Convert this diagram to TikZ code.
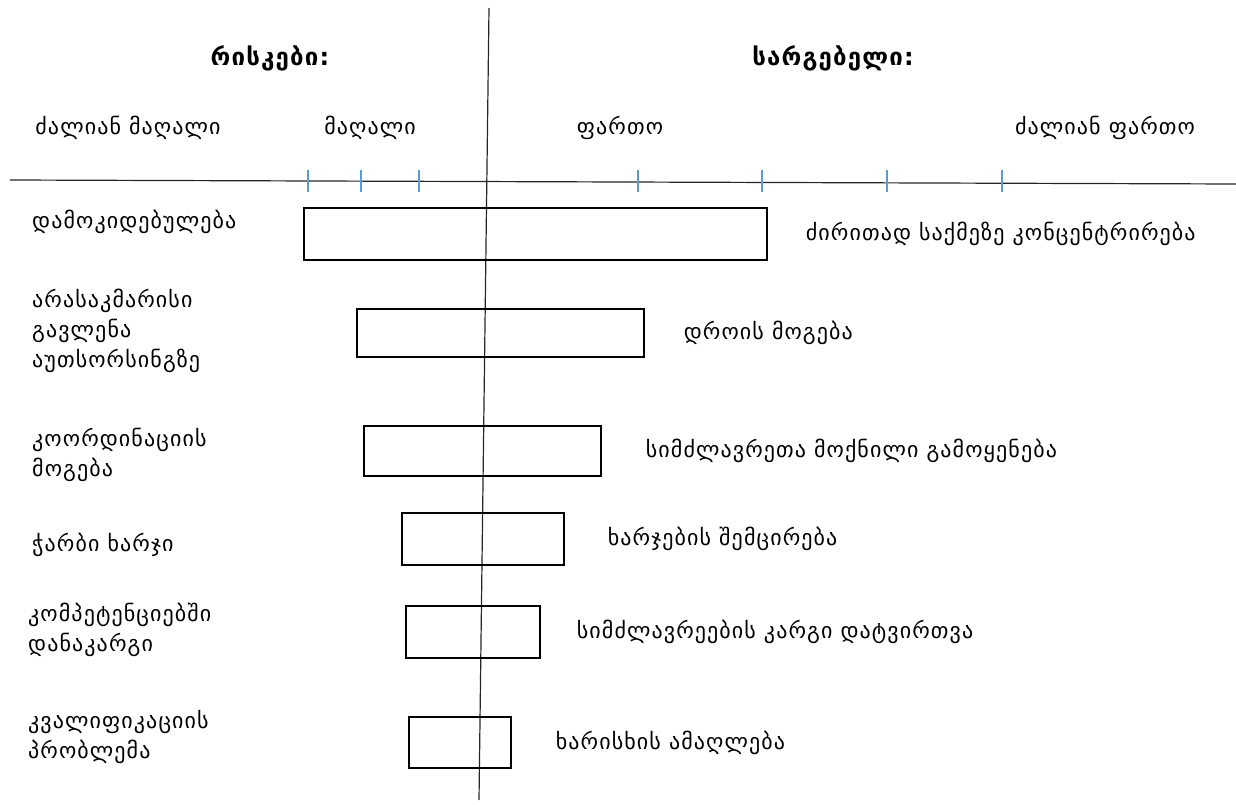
\documentclass[tikz,border=0pt]{standalone}
\usepackage{fontspec}
\setmainfont[LetterSpace=5]{DejaVu Sans}
\usetikzlibrary{positioning}
\definecolor{tickblue}{HTML}{5B9BD5}

\begin{document}
\begin{tikzpicture}
[
    x=1pt, y=-1pt,
    axis/.style={line width=1.2pt, black!85},
    tickmark/.style={line width=1.2pt, tickblue},
    bar/.style={draw, line width=1.3pt, inner sep=0pt},
    lbl/.style={font=\fontsize{22}{30}\selectfont, inner sep=0pt, align=left},
    head/.style={font=\fontsize{24}{28}\selectfont\bfseries, inner sep=0pt},
]
\useasboundingbox (0,0) rectangle (1236,805);

\node [head] (risk) at (270,58) {რისკები:};
\node [head] (gain) at (833,58) {სარგებელი:};

\node [lbl] (vhigh) at (128,128) {ძალიან მაღალი};
\node [lbl] (high) at (370,128) {მაღალი};
\node [lbl] (wide) at (620,128) {ფართო};
\node [lbl] (vwide) at (1105,128) {ძალიან ფართო};

\coordinate (vtop) at (489,8);
\coordinate (vbot) at (479,800);
\coordinate (hleft) at (10,180);
\coordinate (hright) at (1236,184);
\draw [axis] (hleft) -- (hright);
\draw [axis] (vtop) -- (vbot);
\draw [tickmark] (308,170) -- (308,192) (361,170) -- (361,192)
    (419,170) -- (419,192) (638,170) -- (638,192)
    (762,170) -- (762,192) (887,170) -- (887,192)
    (1002,170) -- (1002,192);

\node [bar, minimum width=463pt, minimum height=52pt] (b1) at (535.5,234) {};
\node [bar, minimum width=287pt, minimum height=48pt] (b2) at (500.5,333) {};
\node [bar, minimum width=237pt, minimum height=50pt] (b3) at (482.5,451) {};
\node [bar, minimum width=162pt, minimum height=52pt] (b4) at (483,539) {};
\node [bar, minimum width=134pt, minimum height=52pt] (b5) at (473,632) {};
\node [bar, minimum width=102pt, minimum height=51pt] (b6) at (460,742.5) {};

\node [lbl, anchor=west] (r1) at (32,222) {დამოკიდებულება};
\node [lbl, anchor=west] (r2) at (32,331) {არასაკმარისი\\გავლენა\\აუთსორსინგზე};
\node [lbl, anchor=west] (r3) at (32,455) {კოორდინაციის\\მოგება};
\node [lbl, anchor=west] (r4) at (32,545) {ჭარბი ხარჯი};
\node [lbl, anchor=west] (r5) at (28,630) {კომპეტენციებში\\დანაკარგი};
\node [lbl, anchor=west] (r6) at (28,737) {კვალიფიკაციის\\პრობლემა};

\node [lbl, right=38pt of b1] (g1) {ძირითად საქმეზე კონცენტრირება};
\node [lbl, right=39pt of b2] (g2) {დროის მოგება};
\node [lbl, right=44pt of b3] (g3) {სიმძლავრეთა მოქნილი გამოყენება};
\node [lbl, right=43pt of b4] (g4) {ხარჯების შემცირება};
\node [lbl, right=36pt of b5] (g5) {სიმძლავრეების კარგი დატვირთვა};
\node [lbl, right=44pt of b6] (g6) {ხარისხის ამაღლება};
\end{tikzpicture}
\end{document}
